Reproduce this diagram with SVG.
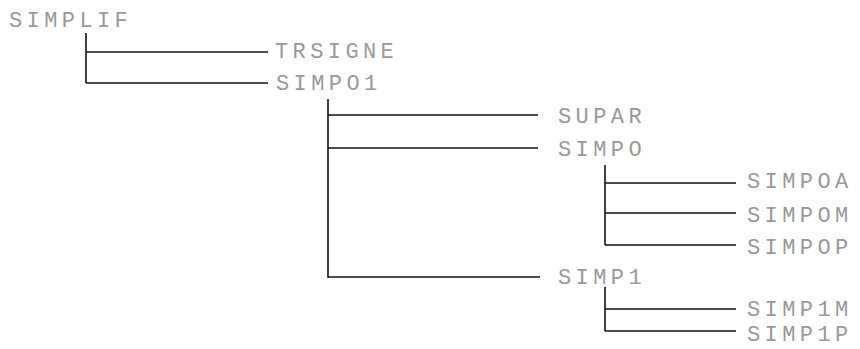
<svg xmlns="http://www.w3.org/2000/svg" width="860" height="349" viewBox="0 0 860 349">
<style>
text{font-family:"Liberation Mono","DejaVu Sans Mono",monospace;font-size:22px;letter-spacing:4.4px;fill:#999}
.c line{stroke:#111;stroke-width:1.6;fill:none}
</style>
<rect width="860" height="349" fill="#fff"/>
<g class="c" id="connectors">
<line x1="86" y1="33" x2="86" y2="83"/>
<line x1="86" y1="52" x2="268" y2="52"/>
<line x1="86" y1="83" x2="268" y2="83"/>
<line x1="328" y1="99" x2="328" y2="278"/>
<line x1="328" y1="115" x2="538" y2="115"/>
<line x1="328" y1="148" x2="538" y2="148"/>
<line x1="328" y1="277" x2="540" y2="277"/>
<line x1="605" y1="165" x2="605" y2="245"/>
<line x1="605" y1="183" x2="736" y2="183"/>
<line x1="605" y1="213" x2="736" y2="213"/>
<line x1="605" y1="245" x2="736" y2="245"/>
<line x1="605" y1="287" x2="605" y2="331"/>
<line x1="605" y1="309" x2="736" y2="309"/>
<line x1="605" y1="331" x2="736" y2="331"/>
</g>
<g id="SIMPLIF"><text x="9" y="27">SIMPLIF</text></g>
<g id="TRSIGNE"><text x="275" y="58">TRSIGNE</text></g>
<g id="SIMPO1"><text x="276" y="90">SIMPO1</text></g>
<g id="SUPAR"><text x="558" y="123">SUPAR</text></g>
<g id="SIMPO"><text x="558" y="156">SIMPO</text></g>
<g id="SIMP1"><text x="558" y="284">SIMP1</text></g>
<g id="SIMPOA"><text x="747" y="188">SIMPOA</text></g>
<g id="SIMPOM"><text x="747" y="222">SIMPOM</text></g>
<g id="SIMPOP"><text x="747" y="254">SIMPOP</text></g>
<g id="SIMP1M"><text x="747" y="316">SIMP1M</text></g>
<g id="SIMP1P"><text x="747" y="341">SIMP1P</text></g>
</svg>
